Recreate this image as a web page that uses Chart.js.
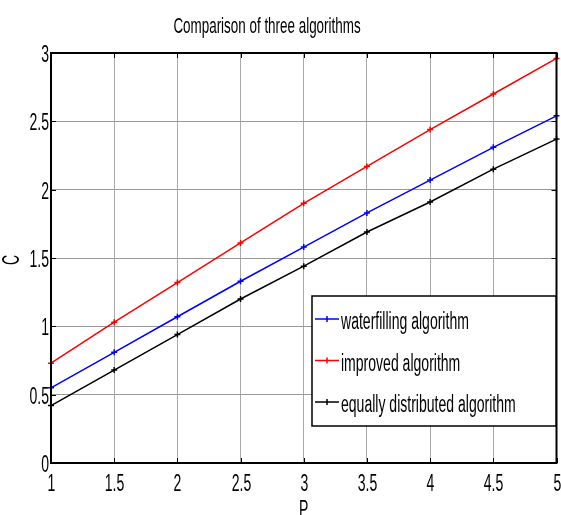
<!DOCTYPE html>
<html>
<head>
<meta charset="utf-8">
<script src="https://cdn.jsdelivr.net/npm/chart.js@4/dist/chart.umd.min.js"></script>
<style>
  html, body { margin: 0; padding: 0; background: #fff; }
  #wrap { width: 561px; height: 515px; }
</style>
</head>
<body>
<div id="wrap"><canvas id="myChart" width="561" height="515"></canvas></div>
<script>
const powers = [1, 1.5, 2, 2.5, 3, 3.5, 4, 4.5, 5];
const waterfilling = [0.55, 0.81, 1.07, 1.33, 1.58, 1.83, 2.07, 2.31, 2.54];
const improved = [0.73, 1.03, 1.32, 1.61, 1.90, 2.17, 2.44, 2.70, 2.96];
const equallyDistributed = [0.42, 0.68, 0.94, 1.20, 1.44, 1.69, 1.91, 2.15, 2.37];
const xTicks = [1, 1.5, 2, 2.5, 3, 3.5, 4, 4.5, 5];
const yTicks = [0, 0.5, 1, 1.5, 2, 2.5, 3];
const xTickLabels = ['1', '1.5', '2', '2.5', '3', '3.5', '4', '4.5', '5'];
const yTickLabels = ['0', '0.5', '1', '1.5', '2', '2.5', '3'];

const fontFamily = "'Liberation Sans', Arial, sans-serif";
// the figure is squeezed sideways, so every text is drawn narrow
const squeeze = 0.61;

function toPoints(values) {
    return powers.map((p, i) => ({ x: p, y: values[i] }));
}

function series(label, values, color) {
    return {
        label: label,
        data: toPoints(values),
        borderColor: color,
        backgroundColor: color,
        borderWidth: 1.5,
        pointStyle: 'cross',
        pointRadius: 3,
        pointBorderWidth: 1.5,
        pointHoverRadius: 3,
        tension: 0,
        clip: 4,
    };
}

function narrowText(ctx, text, x, y, size, align, rotate) {
    ctx.save();
    ctx.translate(x, y);
    if (rotate) ctx.rotate(rotate);
    ctx.scale(squeeze, 1);
    ctx.font = size + 'px ' + fontFamily;
    ctx.textAlign = align;
    ctx.textBaseline = 'alphabetic';
    ctx.fillStyle = '#000';
    ctx.fillText(text, 0, 0);
    ctx.restore();
}

// box, inside ticks, texts and legend like the matlab figure
const framePlugin = {
    id: 'frame',
    afterDraw(chart) {
        const ctx = chart.ctx;
        const a = chart.chartArea;
        const xs = chart.scales.x;
        const ys = chart.scales.y;
        ctx.save();
        ctx.strokeStyle = '#000';
        ctx.lineWidth = 1;
        xTicks.forEach((t, i) => {
            const px = Math.round(xs.getPixelForValue(t)) + 0.5;
            ctx.beginPath();
            ctx.moveTo(px, a.bottom); ctx.lineTo(px, a.bottom - 5);
            ctx.moveTo(px, a.top); ctx.lineTo(px, a.top + 5);
            ctx.stroke();
            narrowText(ctx, xTickLabels[i], px, a.bottom + 28, 23, 'center');
        });
        yTicks.forEach((t, i) => {
            const py = Math.round(ys.getPixelForValue(t)) + 0.5;
            ctx.beginPath();
            ctx.moveTo(a.left, py); ctx.lineTo(a.left + 5, py);
            ctx.moveTo(a.right, py); ctx.lineTo(a.right - 5, py);
            ctx.stroke();
            narrowText(ctx, yTickLabels[i], a.left - 2, py + 8, 23, 'right');
        });
        ctx.lineWidth = 2;
        ctx.strokeRect(a.left, a.top, a.right - a.left, a.bottom - a.top);

        narrowText(ctx, 'Comparison of three algorithms', 267, 33, 22, 'center');
        narrowText(ctx, 'P', (a.left + a.right) / 2, 517, 23, 'center');
        narrowText(ctx, 'C', 19, 260, 23, 'center', -Math.PI / 2);

        // legend box
        const lx = 312, ly = 296, lw = 244, lh = 130;
        ctx.fillStyle = '#fff';
        ctx.fillRect(lx, ly, lw, lh);
        ctx.lineWidth = 1.5;
        ctx.strokeStyle = '#000';
        ctx.strokeRect(lx, ly, lw, lh);
        chart.data.datasets.forEach((ds, i) => {
            const y = ly + 23 + i * 41.5;
            ctx.strokeStyle = ds.borderColor;
            ctx.lineWidth = 1.5;
            ctx.beginPath();
            ctx.moveTo(lx + 3, y); ctx.lineTo(lx + 27, y);
            ctx.moveTo(lx + 15, y - 3); ctx.lineTo(lx + 15, y + 3);
            ctx.stroke();
            narrowText(ctx, ds.label, lx + 29, y + 10, 23, 'left');
        });
        ctx.restore();
    }
};

const myCanvas = document.getElementById('myChart').getContext('2d');

const myChart = new Chart(myCanvas, {
    type: 'line',
    data: {
        datasets: [
            series('waterfilling algorithm', waterfilling, '#0000ff'),
            series('improved algorithm', improved, '#ff0000'),
            series('equally distributed algorithm', equallyDistributed, '#000000'),
        ],
    },
    options: {
        responsive: false,
        animation: false,
        layout: {
            padding: { left: 0, right: 4, top: 53, bottom: 0 }
        },
        scales: {
            x: {
                type: 'linear',
                min: 1,
                max: 5,
                afterBuildTicks: (scale) => { scale.ticks = xTicks.map(v => ({ value: v })); },
                afterFit: (scale) => { scale.height = 52; scale.paddingLeft = 0; scale.paddingRight = 0; },
                grid: { color: '#aaaaaa', lineWidth: 1, drawTicks: false },
                border: { display: false },
                ticks: { display: false },
            },
            y: {
                min: 0,
                max: 3,
                afterBuildTicks: (scale) => { scale.ticks = yTicks.map(v => ({ value: v })); },
                afterFit: (scale) => { scale.width = 51; scale.paddingTop = 0; scale.paddingBottom = 0; },
                grid: { color: '#999999', lineWidth: 1, drawTicks: false },
                border: { display: false },
                ticks: { display: false },
            }
        },
        plugins: {
            legend: { display: false },
            tooltip: { enabled: false },
            title: { display: false },
        }
    },
    plugins: [framePlugin]
});
</script>
</body>
</html>
